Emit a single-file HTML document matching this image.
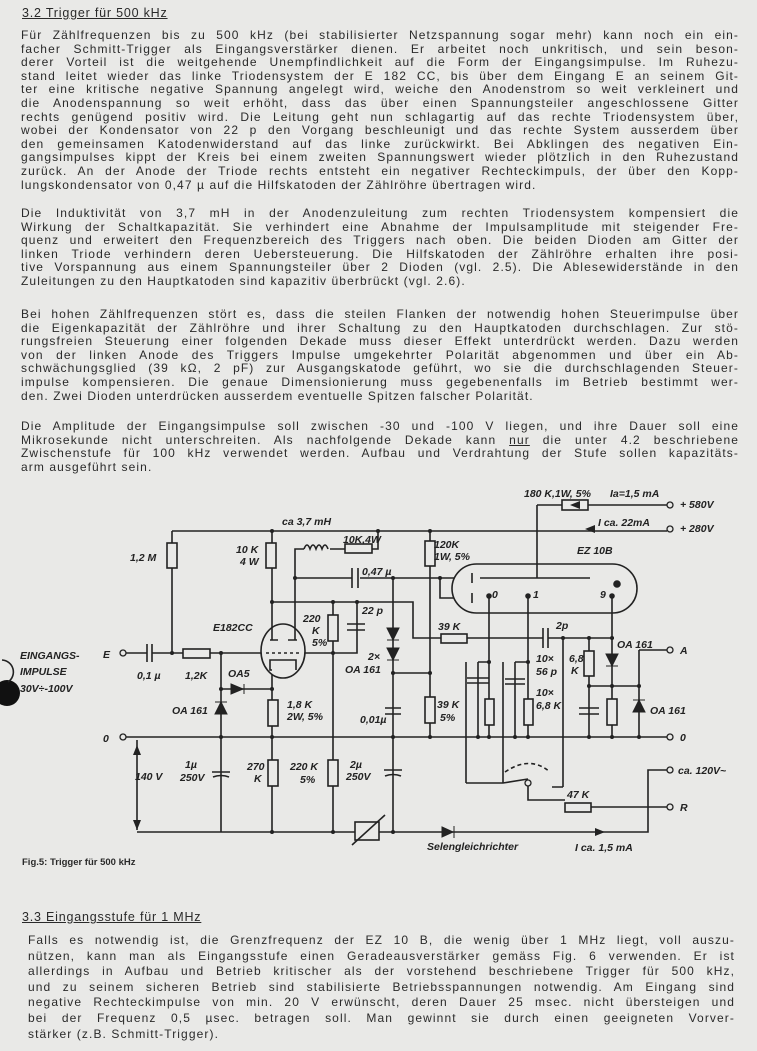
<!DOCTYPE html>
<html><head><meta charset="utf-8"><style>
body{margin:0;background:#e9e9e7;}
#pg{position:relative;width:757px;height:1051px;overflow:hidden;font-family:"Liberation Sans",sans-serif;color:#2a2a2a;}
.l{position:absolute;left:21px;width:718px;font-size:12px;letter-spacing:1.1px;line-height:13px;white-space:nowrap;text-align:justify;text-align-last:justify;}
.e{text-align-last:left;}
.h{position:absolute;font-size:12.5px;letter-spacing:0.8px;text-decoration:underline;}
svg{position:absolute;left:0;top:0}
svg text{font-family:"Liberation Sans",sans-serif;font-style:italic;font-weight:bold;font-size:10.5px;fill:#222}
</style></head><body><div id="pg">
<div class="h" style="left:22px;top:6px">3.2 Trigger für 500 kHz</div>
<div class="l" style="top:29px">Für Zählfrequenzen bis zu 500 kHz (bei stabilisierter Netzspannung sogar mehr) kann noch ein ein-</div>
<div class="l" style="top:42.6px">facher Schmitt-Trigger als Eingangsverstärker dienen. Er arbeitet noch unkritisch, und sein beson-</div>
<div class="l" style="top:56.2px">derer Vorteil ist die weitgehende Unempfindlichkeit auf die Form der Eingangsimpulse. Im Ruhezu-</div>
<div class="l" style="top:69.8px">stand leitet wieder das linke Triodensystem der E 182 CC, bis über dem Eingang E an seinem Git-</div>
<div class="l" style="top:83.4px">ter eine kritische negative Spannung angelegt wird, weiche den Anodenstrom so weit verkleinert und</div>
<div class="l" style="top:97px">die Anodenspannung so weit erhöht, dass das über einen Spannungsteiler angeschlossene Gitter</div>
<div class="l" style="top:110.6px">rechts genügend positiv wird. Die Leitung geht nun schlagartig auf das rechte Triodensystem über,</div>
<div class="l" style="top:124.2px">wobei der Kondensator von 22 p den Vorgang beschleunigt und das rechte System ausserdem über</div>
<div class="l" style="top:137.8px">den gemeinsamen Katodenwiderstand auf das linke zurückwirkt. Bei Abklingen des negativen Ein-</div>
<div class="l" style="top:151.4px">gangsimpulses kippt der Kreis bei einem zweiten Spannungswert wieder plötzlich in den Ruhezustand</div>
<div class="l" style="top:165px">zurück. An der Anode der Triode rechts entsteht ein negativer Rechteckimpuls, der über den Kopp-</div>
<div class="l e" style="top:178.6px">lungskondensator von 0,47 µ auf die Hilfskatoden der Zählröhre übertragen wird.</div>

<div class="l" style="top:207px">Die Induktivität von 3,7 mH in der Anodenzuleitung zum rechten Triodensystem kompensiert die</div>
<div class="l" style="top:220.6px">Wirkung der Schaltkapazität. Sie verhindert eine Abnahme der Impulsamplitude mit steigender Fre-</div>
<div class="l" style="top:234.2px">quenz und erweitert den Frequenzbereich des Triggers nach oben. Die beiden Dioden am Gitter der</div>
<div class="l" style="top:247.8px">linken Triode verhindern deren Uebersteuerung. Die Hilfskatoden der Zählröhre erhalten ihre posi-</div>
<div class="l" style="top:261.4px">tive Vorspannung aus einem Spannungsteiler über 2 Dioden (vgl. 2.5). Die Ablesewiderstände in den</div>
<div class="l e" style="top:275px">Zuleitungen zu den Hauptkatoden sind kapazitiv überbrückt (vgl. 2.6).</div>

<div class="l" style="top:308px">Bei hohen Zählfrequenzen stört es, dass die steilen Flanken der notwendig hohen Steuerimpulse über</div>
<div class="l" style="top:321.6px">die Eigenkapazität der Zählröhre und ihrer Schaltung zu den Hauptkatoden durchschlagen. Zur stö-</div>
<div class="l" style="top:335.2px">rungsfreien Steuerung einer folgenden Dekade muss dieser Effekt unterdrückt werden. Dazu werden</div>
<div class="l" style="top:348.8px">von der linken Anode des Triggers Impulse umgekehrter Polarität abgenommen und über ein Ab-</div>
<div class="l" style="top:362.4px">schwächungsglied (39 kΩ, 2 pF) zur Ausgangskatode geführt, wo sie die durchschlagenden Steuer-</div>
<div class="l" style="top:376px">impulse kompensieren. Die genaue Dimensionierung muss gegebenenfalls im Betrieb bestimmt wer-</div>
<div class="l e" style="top:389.6px">den. Zwei Dioden unterdrücken ausserdem eventuelle Spitzen falscher Polarität.</div>

<div class="l" style="top:420px">Die Amplitude der Eingangsimpulse soll zwischen -30 und -100 V liegen, und ihre Dauer soll eine</div>
<div class="l" style="top:433.6px">Mikrosekunde nicht unterschreiten. Als nachfolgende Dekade kann <u>nur</u> die unter 4.2 beschriebene</div>
<div class="l" style="top:447.2px">Zwischenstufe für 100 kHz verwendet werden. Aufbau und Verdrahtung der Stufe sollen kapazitäts-</div>
<div class="l e" style="top:460.8px">arm ausgeführt sein.</div>

<div style="position:absolute;left:22px;top:857px;font-size:9.5px;font-weight:bold">Fig.5: Trigger für 500 kHz</div>
<div class="h" style="left:22px;top:910px">3.3 Eingangsstufe für 1 MHz</div>
<div class="l" style="left:28px;width:707px;top:934px">Falls es notwendig ist, die Grenzfrequenz der EZ 10 B, die wenig über 1 MHz liegt, voll auszu-</div>
<div class="l" style="left:28px;width:707px;top:949.6px">nützen, kann man als Eingangsstufe einen Geradeausverstärker gemäss Fig. 6 verwenden. Er ist</div>
<div class="l" style="left:28px;width:707px;top:965.2px">allerdings in Aufbau und Betrieb kritischer als der vorstehend beschriebene Trigger für 500 kHz,</div>
<div class="l" style="left:28px;width:707px;top:980.8px">und zu seinem sicheren Betrieb sind stabilisierte Betriebsspannungen notwendig. Am Eingang sind</div>
<div class="l" style="left:28px;width:707px;top:996.4px">negative Rechteckimpulse von min. 20 V erwünscht, deren Dauer 25 msec. nicht übersteigen und</div>
<div class="l" style="left:28px;width:707px;top:1012px">bei der Frequenz 0,5 µsec. betragen soll. Man gewinnt sie durch einen geeigneten Vorver-</div>
<div class="l e" style="left:28px;width:707px;top:1027.6px">stärker (z.B. Schmitt-Trigger).</div>

<svg width="757" height="1051" viewBox="0 0 757 1051">
<g stroke="#222" stroke-width="1.6" fill="none">
<circle cx="7" cy="693" r="13" fill="#111" stroke="none"/>
<path d="M2 660 A12 12 0 0 1 8 682"/>
<path d="M172 531 H667"/>
<path d="M537 505 H667"/>
<path d="M126 737 H667"/>
<path d="M137 832 H648 V770 H667"/>
<path d="M137 740 V830"/>
<path d="M126 653 H147 M152 653 H183 M210 653 H305"/>
<path d="M147 644 V662 M152 644 V662"/>
<rect x="183" y="649" width="27" height="9" fill="#e9e9e7"/>
<path d="M172 531 V543 M172 568 V653"/>
<rect x="167" y="543" width="10" height="25" fill="#e9e9e7"/>
<path d="M221 653 V832"/>
<path d="M221 689 H272"/>
<rect x="268" y="700" width="10" height="26" fill="#e9e9e7"/>
<rect x="268" y="760" width="10" height="26" fill="#e9e9e7"/>
<path d="M272 670 V700 M272 726 V760 M272 786 V832"/>
<path d="M212 772 H230 M213 777 Q221 774 229 777"/>
<ellipse cx="283" cy="651" rx="22" ry="27" fill="#e9e9e7"/>
<path d="M270 640 H278 M288 640 H297 M270 665 V660 H296 V670 M270 660 V670 H272" />
<path d="M266 653 H300" stroke-dasharray="3 3"/>
<path d="M272 640 V531"/>
<rect x="266" y="543" width="10" height="25" fill="#e9e9e7"/>
<path d="M272 602 H357"/>
<path d="M295 640 V549 H304 M330 549 H345 M372 549 H378 V531"/>
<path d="M304 549 q3 -8 6 0 q3 -8 6 0 q3 -8 6 0 q3 -8 6 0"/>
<rect x="345" y="544" width="27" height="9" fill="#e9e9e7"/>
<path d="M295 578 H352 M360 578 H393 M352 568 V588 M358 568 V588"/>
<path d="M333 602 V615 M333 641 V832"/>
<rect x="328" y="615" width="10" height="26" fill="#e9e9e7"/>
<rect x="328" y="760" width="10" height="26" fill="#e9e9e7"/>
<path d="M357 602 V653 H305 M347 624 H365 M347 630 H365"/>
<path d="M393 578 V832"/>
<path d="M385 708 H401 M385 714 H401"/>
<path d="M384 770 H402 M385 776 Q393 773 401 776"/>
<path d="M393 673 H430"/>
<path d="M430 531 V541 M430 566 V697 M430 723 V737"/>
<rect x="425" y="541" width="10" height="25" fill="#e9e9e7"/>
<rect x="425" y="697" width="10" height="26" fill="#e9e9e7"/>
<path d="M393 578 H472 M440 578 V598 H472"/>
<rect x="452" y="564" width="185" height="49" rx="24.5" fill="#e9e9e7"/>
<path d="M480 578 H590 M537 505 V578 M472 573 V583 M472 593 V603"/>
<circle cx="617" cy="584" r="3" fill="#222"/>
<circle cx="489" cy="596" r="2" fill="#222"/>
<circle cx="528" cy="596" r="2" fill="#222"/>
<circle cx="612" cy="596" r="2" fill="#222"/>
<rect x="562" y="500" width="26" height="10" fill="#e9e9e7"/>
<path d="M357 602 H413 V638 H441 M467 638 H543 M548 638 H614"/>
<rect x="441" y="634" width="26" height="9" fill="#e9e9e7"/>
<path d="M543 628 V648 M548 628 V648"/>
<path d="M489 596 V737 M528 596 V737 M612 596 V737 M563 638 V787 H563"/>
<path d="M478 662 H489 M478 662 V737 M467 678 H489 M467 683 H489 M466 662 V783"/>
<path d="M515 662 H528 M515 662 V737 M505 679 H525 M505 684 H525 M503 662 V783"/>
<rect x="485" y="699" width="9" height="26" fill="#e9e9e7"/>
<rect x="524" y="699" width="9" height="26" fill="#e9e9e7"/>
<path d="M589 638 V737 M589 686 H639"/>
<rect x="584" y="651" width="10" height="25" fill="#e9e9e7"/>
<rect x="607" y="699" width="10" height="26" fill="#e9e9e7"/>
<path d="M579 708 H599 M579 714 H599"/>
<path d="M639 650 H667 M639 650 V737"/>
<path d="M466 783 H503 L528 779 M528 783 V800 H565 M591 807 H667 M563 787 H552"/>
<path d="M505 772 Q530 755 550 772" stroke-dasharray="4 3"/>
<rect x="565" y="803" width="26" height="9" fill="#e9e9e7"/>
<rect x="355" y="822" width="24" height="18" fill="#e9e9e7"/>
<path d="M352 845 L385 815"/>
</g>
<g fill="#222">
<path d="M231 684 L243 689 L231 694 Z M244 684 V694" stroke="#222"/>
<path d="M215 714 L221 702 L227 714 Z M215 702 H227" stroke="#222"/>
<path d="M387 628 L393 640 L399 628 Z M387 640 H399" stroke="#222"/>
<path d="M387 648 L393 660 L399 648 Z M387 660 H399" stroke="#222"/>
<path d="M606 654 L612 666 L618 654 Z M606 666 H618" stroke="#222"/>
<path d="M633 712 L639 700 L645 712 Z M633 700 H645" stroke="#222"/>
<path d="M442 827 L453 832 L442 837 Z M454 826 V838" stroke="#222"/>
<path d="M595 828 L605 832 L595 836 Z M580 501 L570 505 L580 509 Z M595 525 L585 529 L595 533 Z M133 755 L137 745 L141 755 Z M133 820 L137 830 L141 820 Z"/>
</g>
<g fill="#e9e9e7" stroke="#222" stroke-width="1.3">
<circle cx="123" cy="653" r="3"/><circle cx="123" cy="737" r="3"/>
<circle cx="670" cy="505" r="3"/><circle cx="670" cy="529" r="3"/>
<circle cx="670" cy="650" r="3"/><circle cx="670" cy="737" r="3"/>
<circle cx="670" cy="770" r="3"/><circle cx="670" cy="807" r="3"/>
<circle cx="528" cy="783" r="3"/>
</g>
<g fill="#222">
<circle cx="172" cy="653" r="2"/><circle cx="221" cy="653" r="2"/><circle cx="221" cy="689" r="2"/><circle cx="221" cy="737" r="2"/>
<circle cx="272" cy="531" r="2"/><circle cx="272" cy="602" r="2"/><circle cx="272" cy="689" r="2"/><circle cx="272" cy="737" r="2"/><circle cx="272" cy="832" r="2"/>
<circle cx="333" cy="602" r="2"/><circle cx="333" cy="653" r="2"/><circle cx="333" cy="832" r="2"/><circle cx="357" cy="602" r="2"/>
<circle cx="295" cy="578" r="2"/><circle cx="393" cy="578" r="2"/><circle cx="393" cy="673" r="2"/><circle cx="393" cy="737" r="2"/><circle cx="393" cy="832" r="2"/>
<circle cx="430" cy="531" r="2"/><circle cx="430" cy="673" r="2"/><circle cx="430" cy="737" r="2"/><circle cx="440" cy="578" r="2"/>
<circle cx="378" cy="531" r="2"/><circle cx="563" cy="638" r="2"/><circle cx="589" cy="638" r="2"/><circle cx="612" cy="638" r="2"/>
<circle cx="589" cy="686" r="2"/><circle cx="612" cy="686" r="2"/><circle cx="639" cy="686" r="2"/>
<circle cx="489" cy="662" r="2"/><circle cx="528" cy="662" r="2"/>
<circle cx="478" cy="737" r="2"/><circle cx="489" cy="737" r="2"/><circle cx="515" cy="737" r="2"/><circle cx="528" cy="737" r="2"/><circle cx="589" cy="737" r="2"/><circle cx="612" cy="737" r="2"/><circle cx="639" cy="737" r="2"/>
</g>
<text x="20" y="659">EINGANGS-</text><text x="20" y="675">IMPULSE</text><text x="20" y="692">30V÷-100V</text>
<text x="103" y="658" font-size="13">E</text><text x="103" y="742" font-size="13">0</text>
<text x="130" y="561">1,2 M</text><text x="135" y="780">140 V</text>
<text x="137" y="679">0,1 µ</text><text x="185" y="679">1,2K</text><text x="228" y="677">OA5</text>
<text x="172" y="714">OA 161</text><text x="185" y="768">1µ</text><text x="180" y="781">250V</text>
<text x="236" y="553">10 K</text><text x="240" y="565">4 W</text>
<text x="282" y="525">ca 3,7 mH</text><text x="343" y="543">10K,4W</text><text x="362" y="575">0,47 µ</text>
<text x="213" y="631">E182CC</text>
<text x="303" y="622">220</text><text x="312" y="634">K</text><text x="312" y="646">5%</text>
<text x="362" y="614">22 p</text><text x="368" y="660">2×</text><text x="345" y="673">OA 161</text>
<text x="287" y="708">1,8 K</text><text x="287" y="720">2W, 5%</text>
<text x="360" y="723">0,01µ</text>
<text x="247" y="770">270</text><text x="254" y="782">K</text>
<text x="290" y="770">220 K</text><text x="300" y="783">5%</text>
<text x="350" y="768">2µ</text><text x="346" y="780">250V</text>
<text x="434" y="548">120K</text><text x="434" y="560">1W, 5%</text>
<text x="437" y="708">39 K</text><text x="440" y="721">5%</text>
<text x="438" y="630">39 K</text><text x="556" y="629">2p</text>
<text x="524" y="497">180 K,1W, 5%</text><text x="610" y="497">Ia=1,5 mA</text>
<text x="598" y="526">I ca. 22mA</text>
<text x="680" y="508">+ 580V</text><text x="680" y="532">+ 280V</text>
<text x="577" y="554" font-size="13">EZ 10B</text>
<text x="492" y="598">0</text><text x="533" y="598">1</text><text x="600" y="598">9</text>
<text x="536" y="662">10×</text><text x="536" y="675">56 p</text>
<text x="536" y="696">10×</text><text x="536" y="709">6,8 K</text>
<text x="569" y="662">6,8</text><text x="571" y="674">K</text>
<text x="617" y="648">OA 161</text><text x="650" y="714">OA 161</text>
<text x="680" y="654" font-size="12">A</text><text x="680" y="741" font-size="12">0</text>
<text x="678" y="774">ca. 120V~</text><text x="680" y="811" font-size="12">R</text>
<text x="567" y="798">47 K</text>
<text x="427" y="850">Selengleichrichter</text><text x="575" y="851">I ca. 1,5 mA</text>
</svg>
</div></body></html>
